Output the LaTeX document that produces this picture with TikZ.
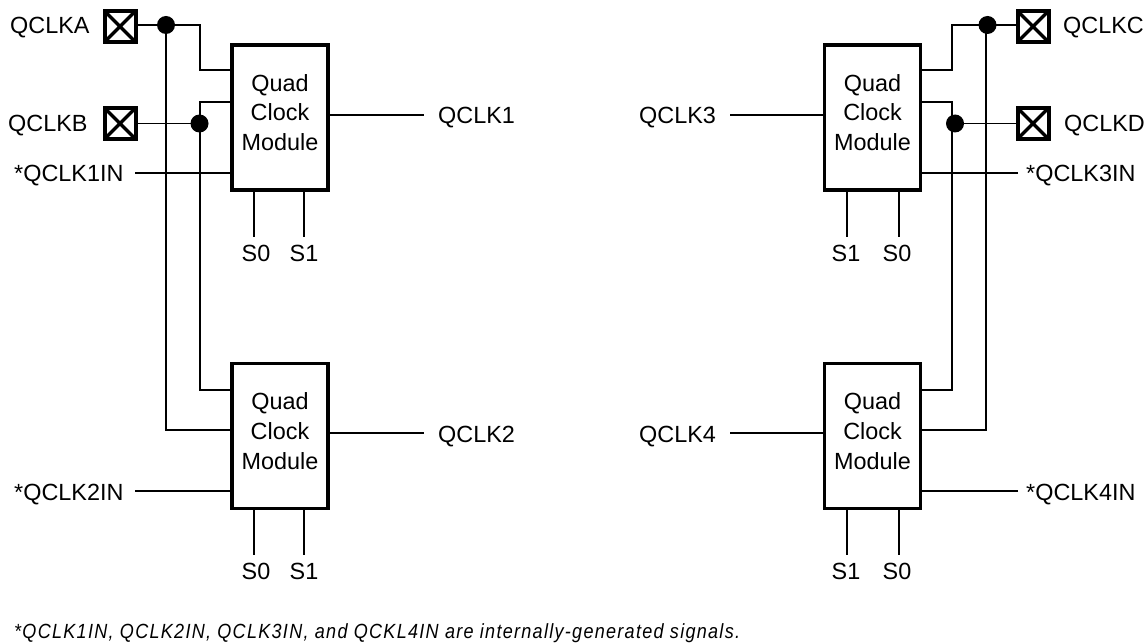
\documentclass[tikz,border=0pt]{standalone}
\usepackage{fontspec}
\setmainfont{Liberation Sans}
\begin{document}
\begin{tikzpicture}[x=1pt,y=-1pt,
  wire/.style={line width=1.7pt,line join=miter},
  modbox/.style={draw,line width=3.6pt,minimum width=96pt,minimum height=145pt,inner sep=0pt,align=center,text depth=10pt,font=\fontsize{23.4}{29.6}\selectfont},
  pad/.style={draw,line width=4pt,minimum size=31pt,inner sep=0pt,
    path picture={\draw[line width=3.4pt] (path picture bounding box.north west)--(path picture bounding box.south east)
      (path picture bounding box.north east)--(path picture bounding box.south west);}},
  junction/.style={circle,fill=black,minimum size=18pt,inner sep=0pt},
  lab/.style={anchor=base west,inner sep=0pt,font=\fontsize{23.4}{28}\selectfont},
  labc/.style={anchor=base,inner sep=0pt,font=\fontsize{23.4}{28}\selectfont}]
\useasboundingbox (0,0) rectangle (1147,644);
% boxes
\node[modbox] (m1) at (280,117.5) {Quad\\Clock\\Module};
\node[modbox] (m2) at (280,436) {Quad\\Clock\\Module};
\node[modbox] (m3) at (872.5,117.5) {Quad\\Clock\\Module};
\node[modbox] (m4) at (872.5,436) {Quad\\Clock\\Module};
% pads and junctions
\node[pad] (pa) at (120,26.5) {};
\node[pad] (pb) at (120,123.5) {};
\node[pad] (pc) at (1033,26.5) {};
\node[pad] (pd) at (1033,123.5) {};
\node[junction] (ja) at (166,25) {};
\node[junction] (jb) at (199.5,123.5) {};
\node[junction] (jc) at (987.5,25) {};
\node[junction] (jd) at (955,123.5) {};
% labels
\node[lab] (la) at (10,34) {QCLKA};
\node[lab] (lb) at (8,132) {QCLKB};
\node[lab] (l1in) at (14,182) {*QCLK1IN};
\node[lab] (l2in) at (14,500) {*QCLK2IN};
\node[lab] (lc) at (1063,34) {QCLKC};
\node[lab] (ld) at (1064,132) {QCLKD};
\node[lab] (l3in) at (1026,182) {*QCLK3IN};
\node[lab] (l4in) at (1026,500) {*QCLK4IN};
\node[lab] (l1) at (438,124) {QCLK1};
\node[lab] (l2) at (438,442) {QCLK2};
\node[lab] (l3) at (639,124) {QCLK3};
\node[lab] (l4) at (639,442) {QCLK4};
\node[labc] (s10) at (256,261) {S0};
\node[labc] (s11) at (304,261) {S1};
\node[labc] (s20) at (256,579) {S0};
\node[labc] (s21) at (304,579) {S1};
\node[labc] (s31) at (846,261) {S1};
\node[labc] (s30) at (897,261) {S0};
\node[labc] (s41) at (846,579) {S1};
\node[labc] (s40) at (897,579) {S0};
\node[anchor=base west,inner sep=0pt] (note) at (14,638.5) {\scalebox{0.88}[1]{\fontsize{20.5}{25}\selectfont\itshape\addfontfeature{LetterSpace=7.1} *QCLK1IN, QCLK2IN, QCLK3IN, and QCKL4IN are internally-generated signals.}};
% free wire ends
\foreach \n/\x/\y in {a1/200/70,b1/200/102,b2/200/390,a2/166/430,
    c1/952/70,d1/952/102,d2/952/390,c2/986/430,
    i1/135/173,i2/135/491,i3/1018/173,i4/1018/491,
    q1/424/115,q2/424/433,q3/730/115,q4/730/433,
    t10/254/237,t11/304/237,t20/254/555,t21/304/555,
    t31/847/237,t30/899/237,t41/847/555,t40/899/555}
  \coordinate (\n) at (\x,\y);
% left side
\draw[wire] (pa.east |- ja.center) -- (ja.center) -- (a1 |- ja.center) -- (a1) -- (a1 -| m1.west);
\draw[wire] (ja.center) -- (a2) -- (a2 -| m2.west);
\draw[wire] (pb.east) -- (jb.center);
\draw[wire] (b1 -| m1.west) -- (b1) -- (b2) -- (b2 -| m2.west);
\draw[wire] (i1) -- (i1 -| m1.west);
\draw[wire] (i2) -- (i2 -| m2.west);
\draw[wire] (q1 -| m1.east) -- (q1);
\draw[wire] (q2 -| m2.east) -- (q2);
\draw[wire] (t10 |- m1.south) -- (t10);
\draw[wire] (t11 |- m1.south) -- (t11);
\draw[wire] (t20 |- m2.south) -- (t20);
\draw[wire] (t21 |- m2.south) -- (t21);
% right side
\draw[wire] (pc.west |- jc.center) -- (jc.center) -- (c1 |- jc.center) -- (c1) -- (c1 -| m3.east);
\draw[wire] (c2 |- jc.center) -- (c2) -- (c2 -| m4.east);
\draw[wire] (pd.west) -- (jd.center);
\draw[wire] (d1 -| m3.east) -- (d1) -- (d2) -- (d2 -| m4.east);
\draw[wire] (i3) -- (i3 -| m3.east);
\draw[wire] (i4) -- (i4 -| m4.east);
\draw[wire] (q3) -- (q3 -| m3.west);
\draw[wire] (q4) -- (q4 -| m4.west);
\draw[wire] (t31 |- m3.south) -- (t31);
\draw[wire] (t30 |- m3.south) -- (t30);
\draw[wire] (t41 |- m4.south) -- (t41);
\draw[wire] (t40 |- m4.south) -- (t40);
\end{tikzpicture}
\end{document}
